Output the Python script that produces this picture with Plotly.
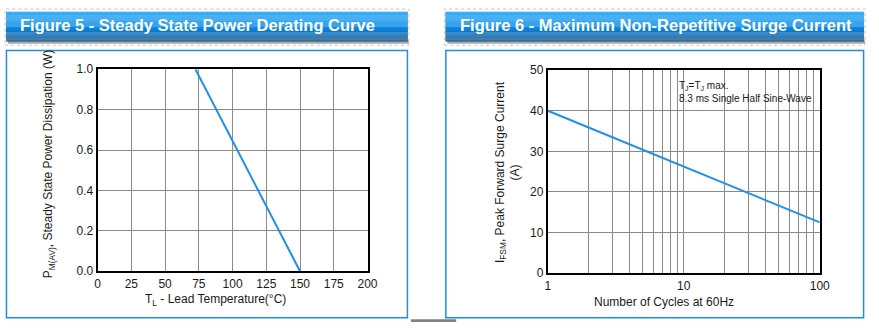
import plotly.graph_objects as go

W, H = 879, 329

# ---- data ----
lead_temp_c = [72.5, 150]          # T_L (°C)
power_w = [1.0, 0.0]               # P_M(AV) (W)

cycles = [1, 100]                  # number of cycles at 60 Hz
surge_a = [40, 12.5]               # I_FSM (A)

temp_ticks = [0, 25, 50, 75, 100, 125, 150, 175, 200]
power_ticks = [0.0, 0.2, 0.4, 0.6, 0.8, 1.0]
cycle_grid = [1, 2, 3, 4, 5, 6, 7, 8, 9, 10, 20, 30, 40, 50, 60, 70, 80, 90, 100]
cycle_labels = ["1", "", "", "", "", "", "", "", "", "10",
                "", "", "", "", "", "", "", "", "100"]
surge_ticks = [0, 10, 20, 30, 40, 50]

FONT = "Arial, Liberation Sans, sans-serif"
LINE = "#1e8ff0"
TXT = "#1a1a1a"


def px(x):
    return x / W


def py(y):
    return 1 - y / H


fig = go.Figure()

fig.add_trace(go.Scatter(x=lead_temp_c, y=power_w, mode="lines",
                         line=dict(color=LINE, width=2),
                         xaxis="x", yaxis="y", showlegend=False))
fig.add_trace(go.Scatter(x=cycles, y=surge_a, mode="lines",
                         line=dict(color=LINE, width=2),
                         xaxis="x2", yaxis="y2", showlegend=False))

axis_common = dict(showline=True, linecolor="black", linewidth=2, mirror=True,
                   showgrid=True, gridcolor="#8a8a8a", gridwidth=1,
                   zeroline=False, ticks="", tickfont=dict(family=FONT, size=12, color=TXT))

fig.update_layout(
    width=W, height=H,
    margin=dict(l=0, r=0, t=0, b=0),
    paper_bgcolor="white", plot_bgcolor="white",
    xaxis=dict(domain=[px(96), px(370)], range=[0, 200], tickvals=temp_ticks,
               anchor="y", **axis_common),
    yaxis=dict(domain=[py(276), py(65)], range=[0, 1], tickvals=power_ticks,
               tickformat=".1f", anchor="x", **axis_common),
    xaxis2=dict(domain=[px(553), px(829)], type="log", range=[0, 2],
                tickvals=cycle_grid, ticktext=cycle_labels, anchor="y2", **axis_common),
    yaxis2=dict(domain=[py(278), py(66)], range=[0, 50], tickvals=surge_ticks,
                anchor="x2", **axis_common),
)

shapes = []
annotations = []


def header(x0, x1, title, tx):
    # dotted outer frame
    shapes.append(dict(type="rect", xref="paper", yref="paper",
                       x0=px(x0 - 1), x1=px(x1 + 1), y0=py(40), y1=py(2),
                       line=dict(color="#c8c8c8", width=1, dash="dot"), layer="below"))
    # drop shadow under the title bar
    shapes.append(dict(type="rect", xref="paper", yref="paper",
                       x0=px(x0 + 2), x1=px(x1 + 1), y0=py(38.5), y1=py(35),
                       fillcolor="#a8a8a8", line=dict(width=0)))
    # vertical gradient built from thin strips
    top, bottom = 5, 36
    stops = [(0.0, (14, 156, 246)), (0.5, (10, 140, 232)),
             (0.75, (10, 110, 190)), (1.0, (8, 74, 128))]
    n = bottom - top
    for i in range(n):
        t = i / (n - 1)
        for k in range(len(stops) - 1):
            if stops[k][0] <= t <= stops[k + 1][0]:
                a, ca = stops[k]
                b, cb = stops[k + 1]
                f = (t - a) / (b - a)
                c = tuple(int(ca[j] + (cb[j] - ca[j]) * f) for j in range(3))
                break
        shapes.append(dict(type="rect", xref="paper", yref="paper",
                           x0=px(x0), x1=px(x1), y0=py(top + i + 1), y1=py(top + i),
                           fillcolor="rgb(%d,%d,%d)" % c, line=dict(width=0)))
    annotations.append(dict(text="<b>%s</b>" % title, xref="paper", yref="paper",
                            x=px(tx), y=py(18.5), xanchor="left", yanchor="middle",
                            showarrow=False, font=dict(family=FONT, size=16.5, color="white")))
    # panel box
    shapes.append(dict(type="rect", xref="paper", yref="paper",
                       x0=px(x0 + 0.5), x1=px(x1 - 0.5), y0=py(324.5), y1=py(45.5),
                       line=dict(color="#1e8ee6", width=1.5), layer="below"))


header(3, 411, "Figure 5 - Steady State Power Derating Curve", 15)
header(449, 874, "Figure 6 - Maximum Non-Repetitive Surge Current", 462)

# small gray tab between panels
shapes.append(dict(type="rect", xref="paper", yref="paper",
                   x0=px(414), x1=px(460), y0=py(329), y1=py(326),
                   fillcolor="#7c838b", line=dict(width=0)))

# axis titles
title_font = dict(family=FONT, size=12, color=TXT)
centered = dict(xref="paper", yref="paper", xanchor="center", yanchor="middle",
                showarrow=False, font=title_font)
annotations.append(dict(text="P<sub>M(AV)</sub>, Steady State Power Dissipation (W)",
                        x=px(47), y=py(164), textangle=-90, **centered))
annotations.append(dict(text="T<sub>L</sub> - Lead Temperature(°C)",
                        x=px(216), y=py(306), **centered))
annotations.append(dict(text="I<sub>FSM</sub>, Peak Forward Surge Current<br>(A)",
                        x=px(512), y=py(172), textangle=-90, **centered))
annotations.append(dict(text="Number of Cycles at 60Hz",
                        x=px(671), y=py(308), **centered))

# test-condition note
annotations.append(dict(text="T<sub>J</sub>=T<sub>J</sub> max.<br>8.3 ms Single Half Sine-Wave",
                        xref="paper", yref="paper", x=px(684), y=py(89),
                        xanchor="left", yanchor="middle", align="left",
                        showarrow=False, font=dict(family=FONT, size=10, color=TXT)))

fig.update_layout(shapes=shapes, annotations=annotations)

fig.write_html("out.html")
